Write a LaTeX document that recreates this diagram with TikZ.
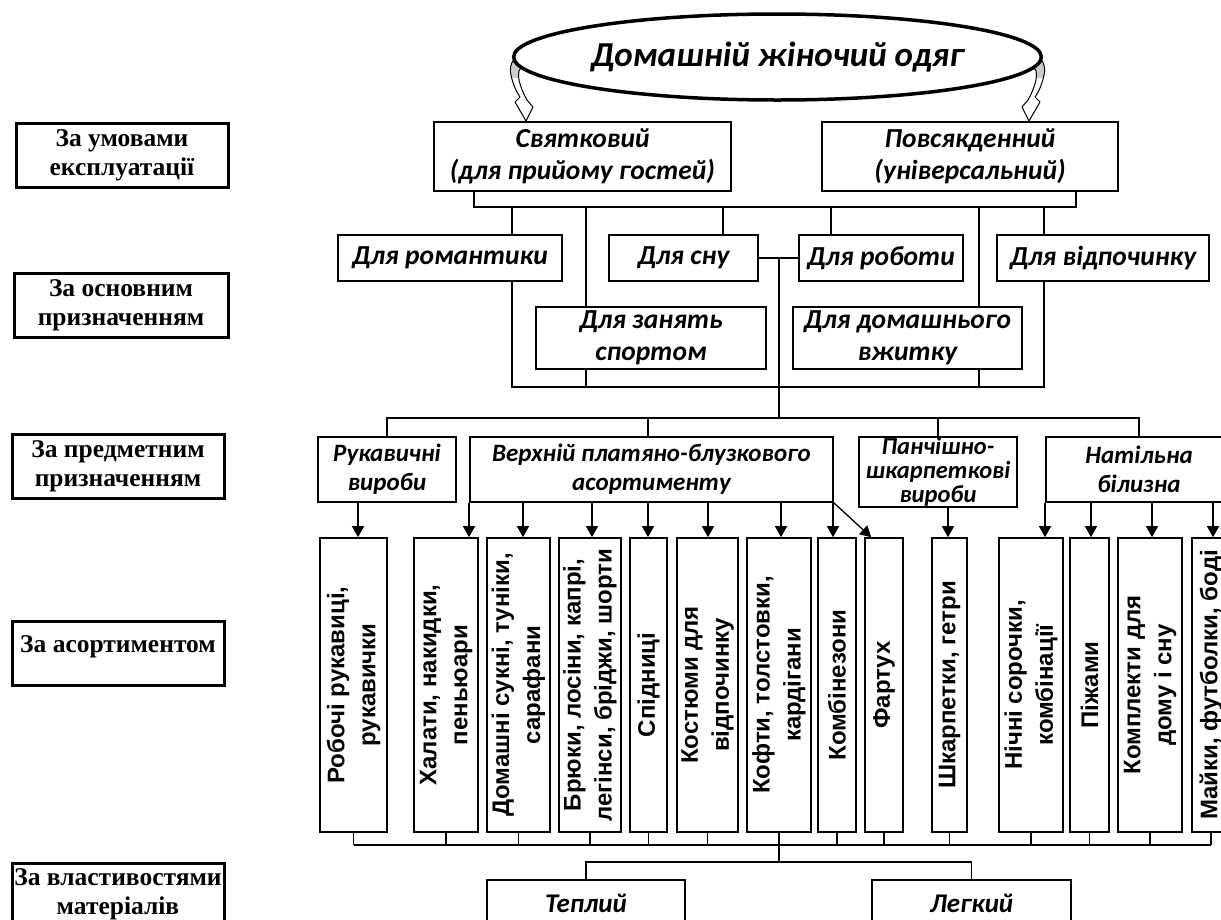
\documentclass[tikz,border=0pt]{standalone}
\usepackage{fontspec}
\newfontfamily\carlito{Carlito}
\newfontfamily\arialf{Liberation Sans}
\newfontfamily\timesf{Liberation Serif}
\usetikzlibrary{arrows.meta,calc,shapes.geometric}
\begin{document}
\begin{tikzpicture}[x=1pt,y=-1pt,
  box/.style={draw,line width=1.6pt,inner sep=0pt,align=center,
    font=\carlito\bfseries\itshape\fontsize{27.5}{32}\selectfont},
  sbox/.style={box,font=\carlito\bfseries\itshape\fontsize{25}{29}\selectfont},
  sz/.style 2 args={minimum width=#1pt,minimum height=#2pt},
  lab/.style={draw,line width=3pt,inner sep=0pt,align=center,
    minimum width=212pt,minimum height=64pt,
    font=\timesf\bfseries\fontsize{25.5}{29}\selectfont},
  labtext/.style={inner sep=0pt,font=\timesf\bfseries\fontsize{25.5}{29}\selectfont},
  vbox/.style={draw,line width=1.6pt,inner sep=0pt,minimum height=294pt},
  vtext/.style={rotate=90,inner sep=0pt,align=center,
    font=\arialf\bfseries\fontsize{24}{31}\selectfont},
  ln/.style={line width=1.3pt},
  arr/.style={line width=1.3pt,-{Triangle[length=11pt,width=12pt]}}
]
\useasboundingbox (0,0) rectangle (1221,919);

% ---- block arrows from the title ----
\def\barrowpath{(8,-11) .. controls (-18,-7) and (-24,8) .. (-21,18)
  .. controls (-19,28) and (-15,36) .. (-12,40) -- (-17,45) -- (-6,64)
  -- (1,50) -- (-5,43) .. controls (-10,34) and (-15,22) .. (-13,14)
  .. controls (-11,8) and (-4,6) .. (3,6) -- cycle}
\coordinate (tw) at (532,57);
\coordinate (te) at (1023,57);
\foreach \c/\s in {tw/1,te/-1}{
  \begin{scope}[shift={(\c)},xscale=\s]
    \fill[white] \barrowpath;
    \begin{scope}
      \clip (-40,-20) rectangle (12,20);
      \fill[gray!40] \barrowpath;
    \end{scope}
    \draw[line width=1pt,line join=round] \barrowpath;
  \end{scope}
}

% ---- title ellipse ----
\node[ellipse,draw,fill=white,line width=3.5pt,minimum width=491pt,minimum height=86pt,
  inner sep=0pt,font=\carlito\bfseries\itshape\fontsize{35}{40}\selectfont]
  (top) at (777.5,57) {Домашній жіночий одяг};

% ---- left labels ----
\node[lab,minimum width=212pt] (L1) at (122,155) {За умовами\\експлуатації};
\node[lab,minimum width=214pt] (L2) at (121,305.5) {За основним\\призначенням};
\node[lab] (L3) at (118,466) {За предметним\\призначенням};
\node[lab] (L4) at (118,653) {};
\node[labtext] (L4t) at (118,647) {За асортиментом};
\node[lab,minimum height=62pt] (L5) at (118,894) {За властивостями\\матеріалів};

% ---- level 2 ----
\node[box,sz={297}{69}] (sv) at (582.5,156.5) {Святковий\\(для прийому гостей)};
\node[box,sz={296}{69}] (pv) at (970,156.5) {Повсякденний\\(універсальний)};

% ---- level 3 ----
\node[box,sz={224}{46}] (rom) at (450,258) {Для романтики};
\node[box,sz={149}{46}] (son) at (683.5,258) {Для сну};
\node[box,sz={164}{46}] (rob) at (881,258) {Для роботи};
\node[box,sz={212}{46}] (vid) at (1103,258) {Для відпочинку};
\node[box,sz={230}{62}] (spo) at (651,338) {Для занять\\спортом};
\node[box,sz={229}{62}] (dom) at (907.5,338) {Для домашнього\\вжитку};

% ---- level 4 ----
\node[sbox,sz={138}{65}] (ruk) at (387,469.5) {Рукавичні\\вироби};
\node[sbox,sz={363}{65}] (ver) at (651.5,469.5) {Верхній платяно-блузкового\\асортименту};
\node[sbox,sz={158}{70},font=\carlito\bfseries\itshape\fontsize{24.5}{24}\selectfont] (pan) at (938,472) {Панчішно-\\шкарпеткові\\вироби};
\node[sbox,sz={186}{65}] (nat) at (1139,469.5) {Натільна\\білизна};

% ---- level 5 (vertical boxes) ----
\foreach \n/\x/\w in {v1/353.5/67, v2/446/64, v3/518.5/63, v4/590/62, v5/648.5/37,
  v6/707.5/61, v7/779/64, v8/837/38, v9/884/38, v10/949.5/35, v11/1031/64,
  v12/1089.5/39, v13/1150/64, v14/1211/38}
  \node[vbox,minimum width=\w pt] (\n) at (\x,685) {};
\node[vtext] (t1) at (v1) {Робочі рукавиці,\\рукавички};
\node[vtext] (t2) at (v2) {Халати, накидки,\\пеньюари};
\node[vtext] (t3) at (v3) {Домашні сукні, туніки,\\сарафани};
\node[vtext] (t4) at (v4) {Брюки, лосіни, капрі,\\легінси, бріджи, шорти};
\node[vtext] (t5) at (v5) {Спідниці};
\node[vtext] (t6) at (v6) {Костюми для\\відпочинку};
\node[vtext] (t7) at (v7) {Кофти, толстовки,\\кардігани};
\node[vtext] (t8) at (v8) {Комбінезони};
\node[vtext] (t9) at (v9) {Фартух};
\node[vtext] (t10) at (v10) {Шкарпетки, гетри};
\node[vtext] (t11) at (v11) {Нічні сорочки,\\комбінації};
\node[vtext] (t12) at (v12) {Піжами};
\node[vtext] (t13) at (v13) {Комплекти для\\дому і сну};
\node[vtext] (t14) at (v14) {Майки, футболки, боді};

% ---- level 6 ----
\node[sbox,sz={198}{46},font=\carlito\bfseries\itshape\fontsize{27}{31}\selectfont] (tep) at (586,903) {Теплий};
\node[sbox,sz={199}{46},font=\carlito\bfseries\itshape\fontsize{27}{31}\selectfont] (leg) at (971.5,903) {Легкий};

% ---- helper coordinates ----
\coordinate (xa) at (474,0);
\coordinate (xb) at (1076,0);
\coordinate (x1) at (512,0);
\coordinate (x2) at (586,0);
\coordinate (x3) at (723,0);
\coordinate (x4) at (831,0);
\coordinate (x5) at (979,0);
\coordinate (x6) at (1044,0);
\coordinate (xm) at (779,0);
\coordinate (xv) at (648,0);
\coordinate (y1) at (0,207);
\coordinate (y2) at (0,387);
\coordinate (y3) at (0,418);
\coordinate (y5) at (0,845);
\coordinate (y6) at (0,862);

% ---- connectors level 2 -> 3 ----
\draw[ln] (sv.south -| xa) -- (xa |- y1) -- (xb |- y1) -- (pv.south -| xb);
\foreach \n/\x in {rom/x1, spo/x2, son/x3, rob/x4, dom/x5, vid/x6}
  \draw[ln] (\x |- y1) -- (\n.north -| \x);
\draw[ln] (son.east) -- (rob.west);
\draw[ln] (son.east -| xm) -- (xm |- y3);
\draw[ln] (rom.south -| x1) -- (x1 |- y2) -- (x6 |- y2) -- (vid.south -| x6);
\draw[ln] (spo.south -| x2) -- (x2 |- y2);
\draw[ln] (dom.south -| x5) -- (x5 |- y2);

% ---- connectors level 3 -> 4 ----
\draw[ln] (ruk.north) -- (ruk.north |- y3) -- (nat.north |- y3) -- (nat.north);
\draw[ln] (xv |- y3) -- (ver.north -| xv);
\draw[ln] (pan.north |- y3) -- (pan.north);

% ---- arrows level 4 -> 5 ----
\foreach \s/\t/\x in {ruk/v1/358, ver/v2/469, ver/v3/523, ver/v4/592, ver/v5/648,
  ver/v6/708, ver/v7/781, ver/v8/833, pan/v10/948, nat/v11/1045, nat/v12/1091,
  nat/v13/1152, nat/v14/1213}{
  \coordinate (ax) at (\x,0);
  \draw[arr] (\s.south -| ax) -- (\t.north -| ax);
}
\draw[arr] (ver.south east) -- ([xshift=7pt]v9.north west);

% ---- connectors level 5 -> 6 ----
\foreach \t in {v1,v2,v3,v4,v5,v6,v7,v8,v9,v10,v11,v12,v13,v14}
  \draw[ln] (\t.south) -- (\t.south |- y5);
\draw[ln] (v1.south |- y5) -- (v14.south |- y5);
\draw[ln] (v7.south |- y5) -- (v7.south |- y6);
\draw[ln] (tep.north) -- (tep.north |- y6) -- (leg.north |- y6) -- (leg.north);
\end{tikzpicture}
\end{document}
